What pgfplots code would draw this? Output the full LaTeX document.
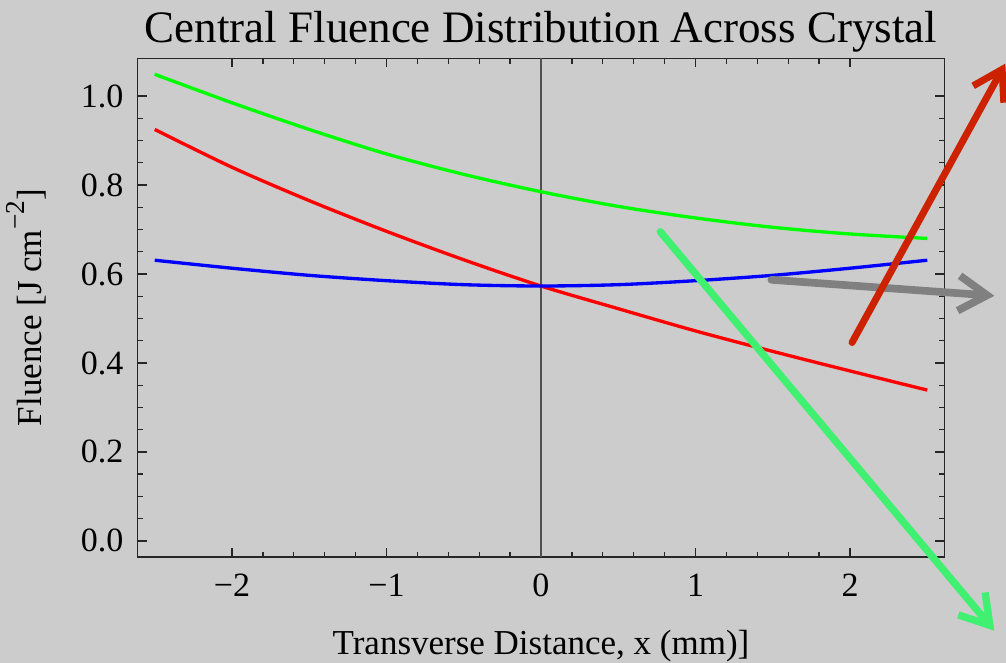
\documentclass[border=0pt]{standalone}
\usepackage{fontspec}
\setmainfont{Liberation Serif}
\usepackage{pgfplots}
\pgfplotsset{compat=1.18}
\usetikzlibrary{arrows.meta,calc,backgrounds}

\definecolor{bgc}{gray}{0.8}
\definecolor{arrred}{HTML}{CC2200}
\definecolor{arrgray}{HTML}{808080}
\definecolor{arrgreen}{HTML}{40F070}
\definecolor{zeroline}{HTML}{505050}

\begin{document}
\begin{tikzpicture}
\begin{axis}[
    name=ax,
    scale only axis,
    width=242pt, height=149.6pt,
    xmin=-2.61, xmax=2.61,
    ymin=-0.036, ymax=1.085,
    clip=false,
    axis line style={black!85, line width=0.45pt},
    every tick/.style={black!85, line width=0.4pt},
    tick align=inside,
    major tick length=2.7pt, minor tick length=1.6pt,
    xtick={-2,-1,0,1,2},
    xticklabels={−2,−1,0,1,2},
    ytick={0,0.2,0.4,0.6,0.8,1.0},
    yticklabels={0.0,0.2,0.4,0.6,0.8,1.0},
    minor x tick num=4,
    minor y tick num=3,
    xticklabel style={anchor=base, inner sep=0pt, yshift=-12pt, font=\fontsize{10.2}{12}\selectfont},
    yticklabel style={anchor=east, inner sep=0pt, xshift=-4.1pt, font=\fontsize{10.2}{12}\selectfont},
    title={Central Fluence Distribution Across Crystal},
    title style={at={(axis description cs:0.5,1.032)}, anchor=base, yshift=-6pt, inner sep=0pt, font=\fontsize{13.5}{16}\selectfont},
    xlabel={Transverse Distance, x (mm)]},
    xlabel style={at={(axis description cs:0.5,-0.1965)}, anchor=base, inner sep=0pt, font=\fontsize{10.5}{12}\selectfont},
    ylabel={Fluence [J cm\raisebox{0.5em}{\fontsize{8.2}{10}\selectfont −2}]},
    ylabel style={at={(axis description cs:-0.119,0.5)}, anchor=base, inner sep=0pt, font=\fontsize{10.5}{12}\selectfont},
]
% vertical line at x = 0
\addplot[zeroline, line width=0.55pt] coordinates {(0,-0.036) (0,1.085)};

% green curve
\addplot[color={rgb,1:red,0;green,1;blue,0}, line width=1pt, smooth] coordinates {
(-2.5,1.049) (-2.0,0.985) (-1.5,0.925) (-1.0,0.870) (-0.5,0.824) (0.0,0.785)
(0.5,0.752) (1.0,0.726) (1.5,0.705) (2.0,0.690) (2.5,0.680)
};
% red curve
\addplot[color={rgb,1:red,1;green,0;blue,0}, line width=1pt, smooth] coordinates {
(-2.5,0.925) (-2.0,0.840) (-1.5,0.765) (-1.0,0.696) (-0.5,0.632) (0.0,0.573)
(0.5,0.522) (1.0,0.472) (1.5,0.426) (2.0,0.382) (2.5,0.339)
};
% blue curve
\addplot[color={rgb,1:red,0;green,0;blue,1}, line width=1pt, smooth] coordinates {
(-2.5,0.631) (-2.0,0.613) (-1.5,0.597) (-1.0,0.585) (-0.5,0.576) (0.0,0.573)
(0.5,0.576) (1.0,0.585) (1.5,0.597) (2.0,0.613) (2.5,0.631)
};

% annotation arrows
\addplot[arrgreen, line width=2.2pt, line cap=round, -{Straight Barb[length=8.5pt,width=10.5pt]}]
  coordinates {(0.772,0.695) (2.934,-0.202)};
\addplot[arrgray, line width=2.3pt, line cap=round, -{Straight Barb[length=8.5pt,width=10.5pt]}]
  coordinates {(1.491,0.587) (2.934,0.551)};
\addplot[arrred, line width=2.1pt, line cap=round, -{Straight Barb[length=8.5pt,width=10.5pt]}]
  coordinates {(2.013,0.446) (3.005,1.073)};
\end{axis}
\begin{scope}[on background layer]
\fill[bgc] ($(ax.south west)+(-41.31pt,-31.8pt)$) rectangle ($(ax.north east)+(18.51pt,17.49pt)$);
\end{scope}
\pgfresetboundingbox
\path[use as bounding box] ($(ax.south west)+(-41.31pt,-31.8pt)$) rectangle ($(ax.north east)+(18.51pt,17.49pt)$);
\end{tikzpicture}
\end{document}
